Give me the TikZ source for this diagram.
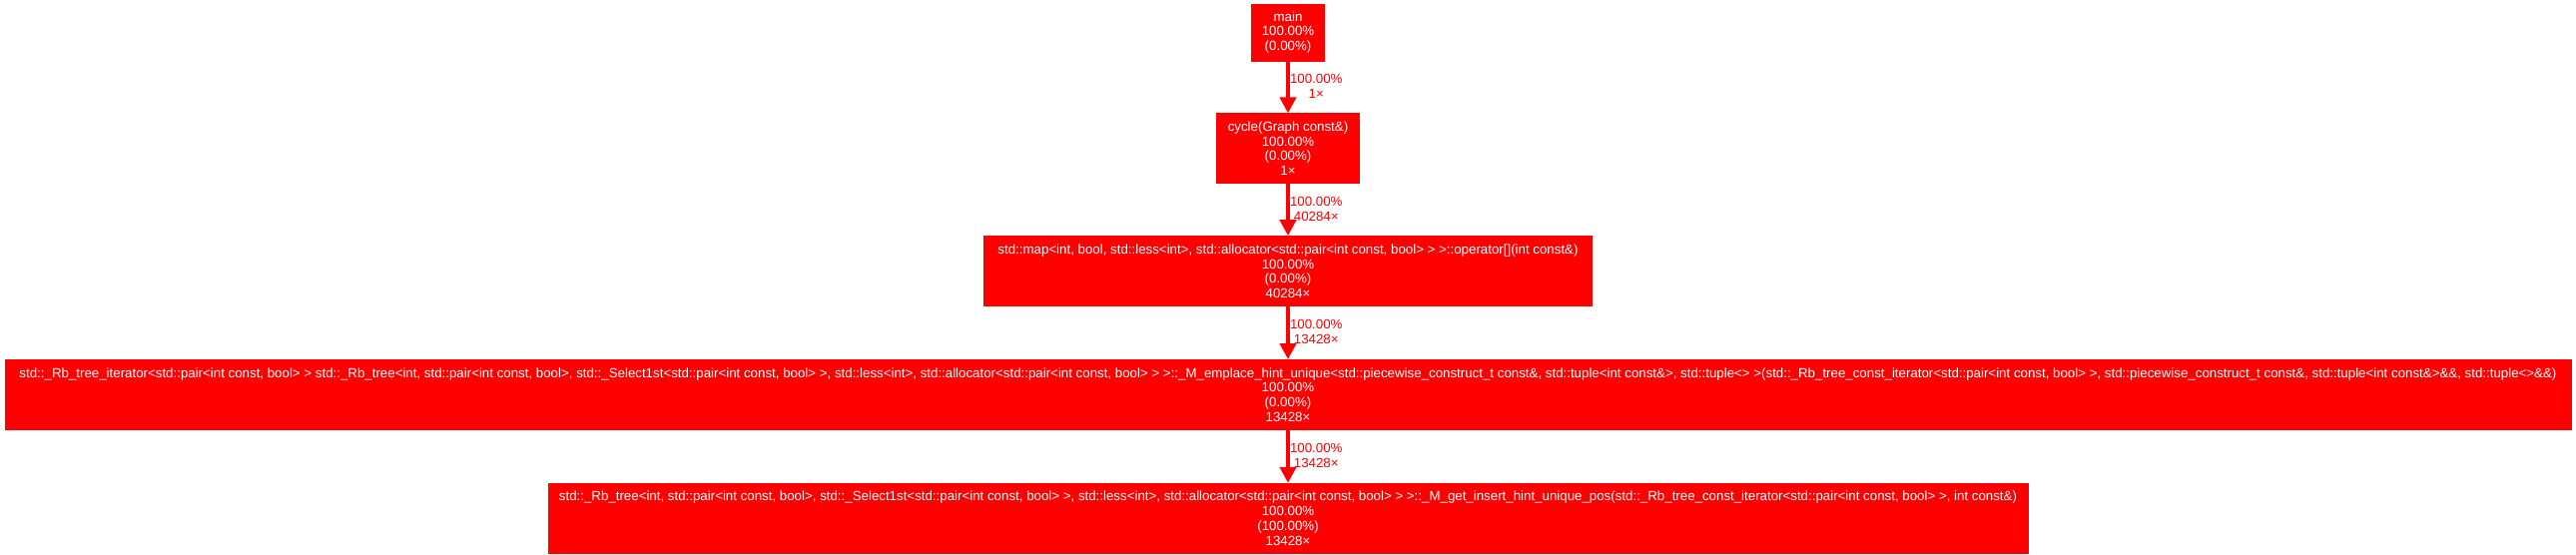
\documentclass[tikz,border=0pt]{standalone}
\usepackage{fontspec}
\setmainfont{Liberation Sans}
\usepackage{tikz}
\usetikzlibrary{positioning,arrows.meta}

\tikzset{
  fnode/.style={fill=red, draw=red, line width=0.8pt, text=white, align=center,
    font=\fontsize{13.3pt}{14.7pt}\selectfont, inner xsep=0pt, inner ysep=0pt,
    minimum height=70pt},
  callarrow/.style={draw=red, line width=4pt, -{Triangle[width=16pt,length=16pt]}},
  calllabel/.style={text=red, align=center, anchor=west, inner sep=0pt,
    font=\fontsize{13.3pt}{14.7pt}\selectfont}
}

\begin{document}
\begin{tikzpicture}[x=1pt,y=-1pt,node distance=52pt]
  \useasboundingbox (0,0) rectangle (2580,556);

  \node[fnode, minimum width=73pt, minimum height=57pt] (main) at (1290,32.5)
    {main\\100.00\%\\(0.00\%)};
  \node[fnode, minimum width=143pt, below=of main] (cycle)
    {cycle(Graph const\&)\\100.00\%\\(0.00\%)\\1×};
  \node[fnode, minimum width=609pt, below=of cycle] (map)
    {std::map<int, bool, std::less<int>, std::allocator<std::pair<int const, bool> > >::operator[](int const\&)\\100.00\%\\(0.00\%)\\40284×};
  \node[fnode, minimum width=2570pt, below=53pt of map] (emplace)
    {std::\_Rb\_tree\_iterator<std::pair<int const, bool> > std::\_Rb\_tree<int, std::pair<int const, bool>, std::\_Select1st<std::pair<int const, bool> >, std::less<int>, std::allocator<std::pair<int const, bool> > >::\_M\_emplace\_hint\_unique<std::piecewise\_construct\_t const\&, std::tuple<int const\&>, std::tuple<> >(std::\_Rb\_tree\_const\_iterator<std::pair<int const, bool> >, std::piecewise\_construct\_t const\&, std::tuple<int const\&>\&\&, std::tuple<>\&\&)\\100.00\%\\(0.00\%)\\13428×};
  \node[fnode, minimum width=1482pt, below=53pt of emplace] (hintpos)
    {std::\_Rb\_tree<int, std::pair<int const, bool>, std::\_Select1st<std::pair<int const, bool> >, std::less<int>, std::allocator<std::pair<int const, bool> > >::\_M\_get\_insert\_hint\_unique\_pos(std::\_Rb\_tree\_const\_iterator<std::pair<int const, bool> >, int const\&)\\100.00\%\\(100.00\%)\\13428×};

  % calls
  \draw[callarrow] (main) -- node[calllabel, yshift=1pt] {100.00\%\\1×} (cycle);
  \draw[callarrow] (cycle) -- node[calllabel, yshift=1pt] {100.00\%\\40284×} (map);
  \draw[callarrow] (map) -- node[calllabel, yshift=1pt] {100.00\%\\13428×} (emplace);
  \draw[callarrow] (emplace) -- node[calllabel, yshift=1pt] {100.00\%\\13428×} (hintpos);
\end{tikzpicture}
\end{document}
